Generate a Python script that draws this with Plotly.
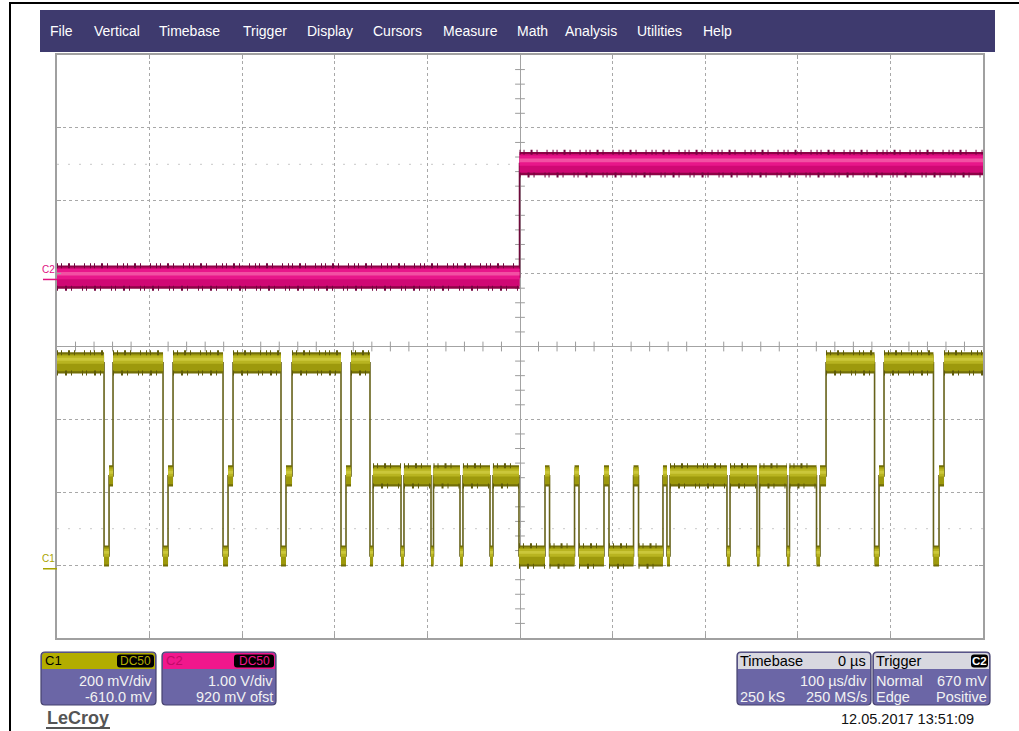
import plotly.graph_objects as go

W, H = 1019, 731
PX0, PX1, PY0, PY1 = 57, 983, 55, 638   # graticule area in pixels

# ---------------- data ----------------
time_range_us = [-500, 500]
div_range = [-4, 4]

c1_volts_per_div = 0.200
c1_offset_v = -0.610
c2_volts_per_div = 1.00
c2_offset_v = 0.920
trigger_level_v = 0.670

# C1: three-level signal, segment boundaries in µs and level codes
c1_level_volts = {"H": 0.565, "M": 0.255, "L": 0.035}
c1_edges_us = [-500, -449.2, -443.8, -439.5, -385.5, -380.1, -374.7, -320.7, -315.3,
               -309.9, -258.1, -252.7, -246.2, -193.3, -187.9, -182.5, -162.0, -158.7,
               -128.5, -125.3, -96.1, -93.4, -64.8, -61.6, -32.4, -29.2, -1.1, 27.0,
               31.9, 58.9, 63.7, 90.7, 96.1, 122.6, 128.0, 154.4, 158.7, 162.0, 223.5,
               226.8, 255.9, 258.6, 288.3, 291.0, 320.2, 324.0, 330.5, 382.9, 387.7,
               393.1, 446.5, 452.5, 457.9, 500]
c1_levels = ["H", "L", "M", "H", "L", "M", "H", "L", "M", "H", "L", "M", "H", "L", "M",
             "H", "L", "M", "L", "M", "L", "M", "L", "M", "L", "M",
             "L", "M", "L", "M", "L", "M", "L", "M", "L", "M", "L",
             "M", "L", "M", "L", "M", "L", "M", "L", "M",
             "H", "L", "M", "H", "L", "M", "H"]

# C2: single rising edge at the trigger point
c2_edges_us = [-500, -0.5, 500]
c2_levels_v = [0.033, 1.590]

menu_items = ["File", "Vertical", "Timebase", "Trigger", "Display", "Cursors",
              "Measure", "Math", "Analysis", "Utilities", "Help"]
menu_x_px = [48, 92, 157, 241, 305, 371, 441, 515, 563, 635, 701]

# ---------------- helpers ----------------
def to_div(v, vdiv, off):
    return (v + off) / vdiv

def px(x):
    return x / W

def py(y):
    return 1 - y / H

def band_poly(edges, levs, lo, hi):
    xs, ys = [], []
    for i, lv in enumerate(levs):
        a, b = edges[i], edges[i + 1]
        xs += [a, b, b, a, a, None]
        ys += [lv + lo, lv + lo, lv + hi, lv + hi, lv + lo, None]
    return xs, ys

def step_path(edges, levs):
    xs, ys = [], []
    for i, lv in enumerate(levs):
        xs += [edges[i], edges[i + 1]]
        ys += [lv, lv]
    return xs, ys

def edge_lines(edges, levs, off, minlen):
    xs, ys = [], []
    for i, lv in enumerate(levs):
        a, b = edges[i], edges[i + 1]
        if b - a >= minlen:
            xs += [a, b, None]
            ys += [lv + off, lv + off, None]
    return xs, ys

c1_div = [to_div(c1_level_volts[k], c1_volts_per_div, c1_offset_v) for k in c1_levels]
c2_div = [to_div(v, c2_volts_per_div, c2_offset_v) for v in c2_levels_v]

fig = go.Figure()

def add_channel(edges, levs, line_col, layers, spike_col, half):
    xs, ys = step_path(edges, levs)
    fig.add_trace(go.Scatter(x=xs, y=ys, mode="lines", hoverinfo="skip",
                             line=dict(color=line_col, width=1.6)))
    for lo, hi, col in layers:
        bx, by = band_poly(edges, levs, lo, hi)
        fig.add_trace(go.Scatter(x=bx, y=by, mode="lines", fill="toself",
                                 fillcolor=col, line=dict(width=0), hoverinfo="skip"))
    for off, dash in [(half, "1px,3px,1px,6px,2px,4px,1px,9px,1px,5px"),
                      (-half, "1px,7px,2px,4px,1px,10px,1px,3px")]:
        sx, sy = edge_lines(edges, levs, off, 8)
        fig.add_trace(go.Scatter(x=sx, y=sy, mode="lines", hoverinfo="skip",
                                 line=dict(color=spike_col, width=5, dash=dash)))

# faint reference dots at +/-2.5 div
fig.add_trace(go.Scatter(x=time_range_us, y=[2.5, 2.5], mode="lines", hoverinfo="skip",
                         line=dict(color="#c9c9c9", width=1, dash="2px,9px")))
fig.add_trace(go.Scatter(x=time_range_us, y=[-2.5, -2.5], mode="lines", hoverinfo="skip",
                         line=dict(color="#c9c9c9", width=1, dash="2px,9px")))

# center-cross minor ticks
minor_t = [i * 20 for i in range(-24, 25) if i % 5 != 0]
minor_d = [i * 0.2 for i in range(-19, 20) if i % 5 != 0]
fig.add_trace(go.Scatter(x=minor_t, y=[0] * len(minor_t), mode="markers", hoverinfo="skip",
                         marker=dict(symbol="line-ns", size=7,
                                     line=dict(color="#9c9c9c", width=1))))
fig.add_trace(go.Scatter(x=[0] * len(minor_d), y=minor_d, mode="markers", hoverinfo="skip",
                         marker=dict(symbol="line-ew", size=7,
                                     line=dict(color="#9c9c9c", width=1))))

add_channel(c2_edges_us, c2_div, "#6e0a3a",
            [(-0.16, 0.16, "#8c0346"), (-0.125, 0.13, "#d00874"),
             (-0.03, 0.11, "#e8168a"), (0.02, 0.07, "#f250a3")], "#740540", 0.155)
add_channel(c1_edges_us, c1_div, "#66621a",
            [(-0.145, 0.145, "#726e08"), (-0.115, 0.12, "#9d990c"),
             (-0.01, 0.10, "#b8b420"), (0.03, 0.07, "#cbc73a")], "#5f5b0a", 0.14)

# trigger markers
trig_div = to_div(trigger_level_v, c2_volts_per_div, c2_offset_v)
fig.add_trace(go.Scatter(x=[508], y=[trig_div], mode="markers", cliponaxis=False,
                         hoverinfo="skip",
                         marker=dict(symbol="triangle-left", size=9, color="#e8157f")))
fig.add_trace(go.Scatter(x=[0], y=[-4.1], mode="markers", cliponaxis=False,
                         hoverinfo="skip",
                         marker=dict(symbol="triangle-up", size=9, color="#e8157f")))

shapes = []
annotations = []

# outer frame (top and left)
shapes.append(dict(type="line", xref="paper", yref="paper", x0=px(9), x1=px(1019),
                   y0=py(3), y1=py(3), line=dict(color="black", width=2)))
shapes.append(dict(type="line", xref="paper", yref="paper", x0=px(10), x1=px(10),
                   y0=py(3), y1=py(731), line=dict(color="black", width=2)))

# menu bar
shapes.append(dict(type="rect", xref="paper", yref="paper", x0=px(40), x1=px(995),
                   y0=py(52), y1=py(10), fillcolor="#3e3a6e", line=dict(width=0),
                   layer="below"))
for name, xm in zip(menu_items, menu_x_px):
    annotations.append(dict(text=name, xref="paper", yref="paper", x=px(xm), y=py(31),
                            xanchor="left", yanchor="middle", showarrow=False,
                            font=dict(family="Liberation Sans", size=14, color="white")))

# channel markers on left
for name, zero_div, col in [("C2", to_div(0, c2_volts_per_div, c2_offset_v), "#e0117f"),
                            ("C1", to_div(0, c1_volts_per_div, c1_offset_v), "#a9a400")]:
    shapes.append(dict(type="line", xref="paper", yref="y", x0=px(43), x1=px(57),
                       y0=zero_div, y1=zero_div, line=dict(color=col, width=1.5)))
    annotations.append(dict(text=name, xref="paper", yref="y", x=px(48), y=zero_div,
                            yshift=10, xanchor="center", yanchor="middle", showarrow=False,
                            font=dict(family="Liberation Sans", size=10, color=col)))

def rrect(x0, y0, x1, y1, r, top_only=False):
    p = f"M {px(x0)},{py(y0 + r)} Q {px(x0)},{py(y0)} {px(x0 + r)},{py(y0)} "
    p += f"L {px(x1 - r)},{py(y0)} Q {px(x1)},{py(y0)} {px(x1)},{py(y0 + r)} "
    if top_only:
        p += f"L {px(x1)},{py(y1)} L {px(x0)},{py(y1)} Z"
    else:
        p += f"L {px(x1)},{py(y1 - r)} Q {px(x1)},{py(y1)} {px(x1 - r)},{py(y1)} "
        p += f"L {px(x0 + r)},{py(y1)} Q {px(x0)},{py(y1)} {px(x0)},{py(y1 - r)} Z"
    return p

def text(t, x, y, anchor="left", col="#f2f2f2", size=14.5, fam="Liberation Sans"):
    annotations.append(dict(text=t, xref="paper", yref="paper", x=px(x), y=py(y),
                            xanchor=anchor, yanchor="middle", showarrow=False,
                            font=dict(family=fam, size=size, color=col)))

BODY = "#6b66a6"
EDGE = "#45416e"
panels = [
    # x0, x1, header colour, badge x0, badge x1, badge text, badge text colour, size
    (41, 156, "#b3ad00", 117, 154, "DC50", "#b3ad00", 12),
    (162, 276, "#f0178c", 234, 274, "DC50", "#f0178c", 12),
    (737, 871, "#d8d8e0", None, None, None, None, None),
    (873, 990, "#d8d8e0", 971, 988, "<b>C2</b>", "#ffffff", 11.5),
]
for x0, x1, hc, bx0, bx1, bt, btc, bs in panels:
    shapes.append(dict(type="path", xref="paper", yref="paper", path=rrect(x0, 652, x1, 705, 4),
                       fillcolor=BODY, line=dict(color=EDGE, width=1.2)))
    shapes.append(dict(type="path", xref="paper", yref="paper",
                       path=rrect(x0 + 1, 653, x1 - 1, 669, 3, top_only=True),
                       fillcolor=hc, line=dict(width=0)))
    if bx0 is not None:
        shapes.append(dict(type="path", xref="paper", yref="paper",
                           path=rrect(bx0, 654.5, bx1, 667.5, 3),
                           fillcolor="#000000", line=dict(width=0)))
        text(bt, (bx0 + bx1) / 2, 661, "center", btc, bs)

text("C1", 43, 660.5, "left", "#000000", 13)
text("200 mV/div", 154, 680.5, "right")
text("-610.0 mV", 154, 697, "right")
text("C2", 164, 660.5, "left", "#c00a68", 13)
text("1.00 V/div", 275, 680.5, "right")
text("920 mV ofst", 275, 697, "right")
text("Timebase", 738, 660.5, "left", "#000000")
text("0 µs", 868, 660.5, "right", "#000000")
text("100 µs/div", 869, 680.5, "right")
text("250 kS", 738, 697, "left")
text("250 MS/s", 869, 697, "right")
text("Trigger", 874, 660.5, "left", "#000000")
text("Normal", 874, 680.5, "left")
text("670 mV", 989, 680.5, "right")
text("Edge", 874, 697, "left")
text("Positive", 989, 697, "right")
text("12.05.2017 13:51:09", 976, 719, "right", "#111111")
text("<b>LeCroy</b>", 45, 718, "left", "#555555", 18)
shapes.append(dict(type="line", xref="paper", yref="paper", x0=px(46), x1=px(110),
                   y0=py(728), y1=py(728), line=dict(color="#555555", width=2)))

axis_common = dict(showgrid=True, gridcolor="#a8a8a8", griddash="dot", gridwidth=1,
                   zeroline=True, zerolinecolor="#a3a3a3", zerolinewidth=1,
                   showline=True, linecolor="#a0a0a0", linewidth=2, mirror="ticks",
                   ticks="inside", ticklen=4, tickcolor="#a0a0a0",
                   showticklabels=False, fixedrange=True)
fig.update_layout(
    width=W, height=H, margin=dict(l=0, r=0, t=0, b=0),
    paper_bgcolor="white", plot_bgcolor="white", showlegend=False, hovermode=False,
    xaxis=dict(range=time_range_us, dtick=100, tick0=0,
               domain=[px(PX0), px(PX1)], **axis_common),
    yaxis=dict(range=div_range, dtick=1, tick0=0,
               domain=[py(PY1), py(PY0)], **axis_common),
    shapes=shapes, annotations=annotations,
)

fig.write_html("out.html", config={"displayModeBar": False},
               post_script="document.body.style.margin='0';document.body.style.overflow='hidden';")
